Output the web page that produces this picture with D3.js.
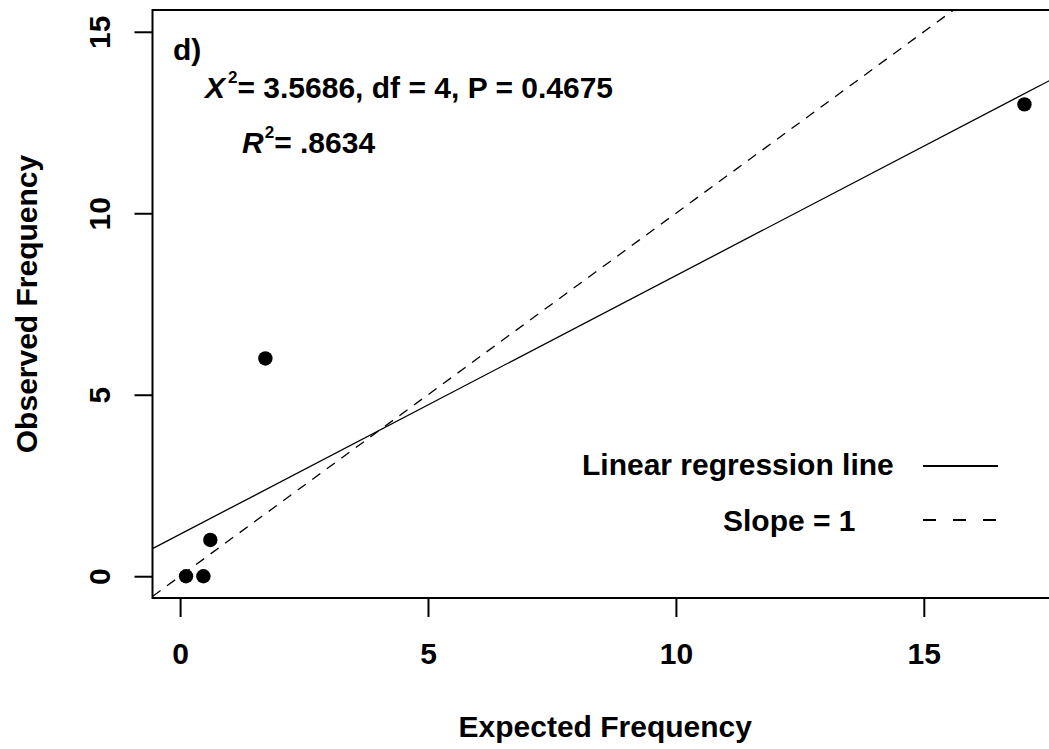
<!DOCTYPE html>
<html>
<head>
<meta charset="utf-8">
<script src="https://cdn.jsdelivr.net/npm/d3@7"></script>
<style>
  body { margin: 0; background: #fff; }
  text { font-family: "Liberation Sans", Arial, sans-serif; font-weight: bold; fill: #000; }
</style>
</head>
<body>
<div id="chart"></div>
<script>
// observed vs expected counts
const expected = [0.12, 0.47, 0.61, 1.72, 17.03];
const observed = [0, 0, 1, 6, 13];
const xTicks = [0, 5, 10, 15];
const yTicks = [0, 5, 10, 15];
const yLimits = [0, 15];
const statsText = "= 3.5686, df = 4, P = 0.4675";
const r2Text = "= .8634";
const legendLabels = ["Linear regression line", "Slope = 1"];

const svgWidth = 1049;
const svgHeight = 749;
const plot = { left: 152.5, right: 1058, top: 10, bottom: 598 };
const fontSize = 30;

const svg = d3.select("#chart")
    .append("svg")
    .attr("width", svgWidth)
    .attr("height", svgHeight);

svg.append("rect").attr("width", svgWidth).attr("height", svgHeight).attr("fill", "#fff");

// R-style 4% padding of the axis range
const xExt = d3.extent(expected);
const xPad = (xExt[1] - xExt[0]) * 0.04;
const yPad = (yLimits[1] - yLimits[0]) * 0.04;

const x = d3.scaleLinear()
    .domain([xExt[0] - xPad, xExt[1] + xPad])
    .range([plot.left, plot.right]);

const y = d3.scaleLinear()
    .domain([yLimits[0] - yPad, yLimits[1] + yPad])
    .range([plot.bottom, plot.top]);

// least squares fit
const mx = d3.mean(expected), my = d3.mean(observed);
let sxy = 0, sxx = 0;
expected.forEach((v, i) => { sxy += (v - mx) * (observed[i] - my); sxx += (v - mx) * (v - mx); });
const slope = sxy / sxx;
const intercept = my - slope * mx;

svg.append("clipPath").attr("id", "clip")
    .append("rect")
    .attr("x", plot.left).attr("y", plot.top)
    .attr("width", plot.right - plot.left).attr("height", plot.bottom - plot.top);

const inner = svg.append("g").attr("clip-path", "url(#clip)");
const xd = x.domain();

inner.append("line")
    .attr("x1", x(xd[0])).attr("y1", y(intercept + slope * xd[0]))
    .attr("x2", x(xd[1])).attr("y2", y(intercept + slope * xd[1]))
    .attr("stroke", "#000").attr("stroke-width", 1.3);

inner.append("line")
    .attr("x1", x(xd[0])).attr("y1", y(xd[0]))
    .attr("x2", x(xd[1])).attr("y2", y(xd[1]))
    .attr("stroke", "#000").attr("stroke-width", 1.3)
    .attr("stroke-dasharray", "10,8");

inner.selectAll("circle")
    .data(expected)
    .enter().append("circle")
    .attr("cx", d => x(d))
    .attr("cy", (d, i) => y(observed[i]))
    .attr("r", 7.2)
    .attr("fill", "#000");

// frame
svg.append("rect")
    .attr("x", plot.left).attr("y", plot.top)
    .attr("width", plot.right - plot.left).attr("height", plot.bottom - plot.top)
    .attr("fill", "none").attr("stroke", "#000").attr("stroke-width", 2);

// axes
const xAxis = svg.append("g")
    .attr("transform", `translate(0, ${plot.bottom})`)
    .call(d3.axisBottom(x).tickValues(xTicks).tickSize(19).tickFormat(d3.format("d")));
xAxis.select(".domain").remove();
xAxis.selectAll("line").attr("stroke-width", 2);
xAxis.selectAll("text")
    .attr("y", 66).attr("dy", null)
    .style("font-size", fontSize + "px")
    .style("font-family", "Liberation Sans, Arial, sans-serif")
    .style("font-weight", "bold");

const yAxis = svg.append("g")
    .attr("transform", `translate(${plot.left}, 0)`)
    .call(d3.axisLeft(y).tickValues(yTicks).tickSize(18).tickFormat(d3.format("d")));
yAxis.select(".domain").remove();
yAxis.selectAll("line").attr("stroke-width", 2);
yAxis.selectAll("text")
    .attr("x", null).attr("dy", null)
    .attr("text-anchor", "middle")
    .attr("transform", "translate(-43, 0) rotate(-90)")
    .style("font-size", fontSize + "px")
    .style("font-family", "Liberation Sans, Arial, sans-serif")
    .style("font-weight", "bold");

// axis titles
svg.append("text")
    .attr("x", (plot.left + plot.right) / 2)
    .attr("y", 737)
    .attr("text-anchor", "middle")
    .style("font-size", fontSize + "px")
    .text("Expected Frequency");

svg.append("text")
    .attr("transform", `translate(37, ${(plot.top + plot.bottom) / 2}) rotate(-90)`)
    .attr("text-anchor", "middle")
    .style("font-size", fontSize + "px")
    .text("Observed Frequency");

// annotations
svg.append("text").attr("x", 173).attr("y", 60)
    .style("font-size", fontSize + "px").text("d)");

const t1 = svg.append("text").attr("x", 205).attr("y", 98).style("font-size", fontSize + "px");
t1.append("tspan").style("font-style", "italic").text("X");
t1.append("tspan").attr("dx", 3).attr("dy", -15).style("font-size", "17px").text("2");
t1.append("tspan").attr("dy", 15).text(statsText);

const t2 = svg.append("text").attr("x", 242).attr("y", 153).style("font-size", fontSize + "px");
t2.append("tspan").style("font-style", "italic").text("R");
t2.append("tspan").attr("dx", 1).attr("dy", -15).style("font-size", "17px").text("2");
t2.append("tspan").attr("dy", 15).text(r2Text);

// legend
const legendRows = [
    { label: legendLabels[0], tx: 582, ty: 475, ly: 466, dash: null },
    { label: legendLabels[1], tx: 723, ty: 531, ly: 520, dash: "13,17" }
];
legendRows.forEach(r => {
    svg.append("text").attr("x", r.tx).attr("y", r.ty)
        .style("font-size", fontSize + "px").text(r.label);
    svg.append("line")
        .attr("x1", 923).attr("x2", 998).attr("y1", r.ly).attr("y2", r.ly)
        .attr("stroke", "#000").attr("stroke-width", 2)
        .attr("stroke-dasharray", r.dash);
});
</script>
</body>
</html>
